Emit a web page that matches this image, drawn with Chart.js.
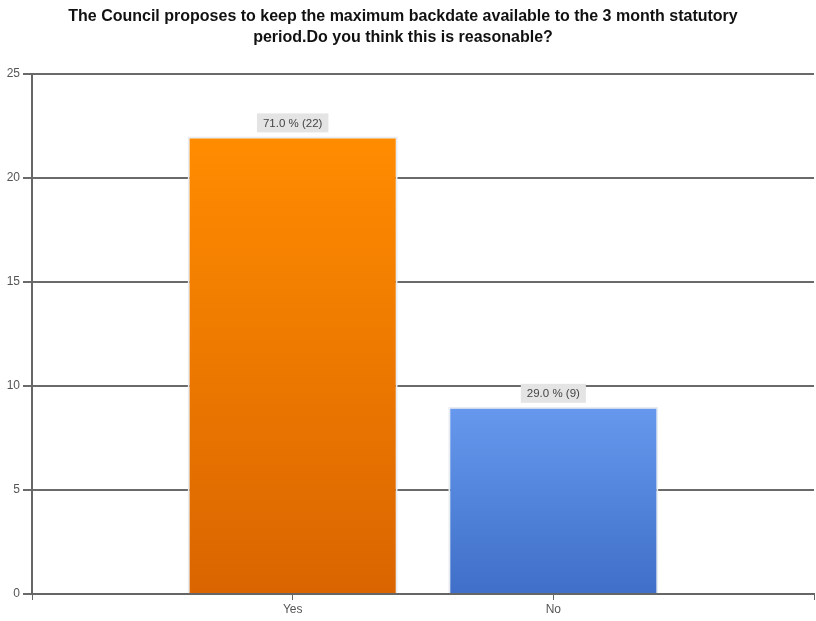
<!DOCTYPE html>
<html>
<head>
<meta charset="utf-8">
<script src="https://cdn.jsdelivr.net/npm/chart.js@4.4.1/dist/chart.umd.min.js"></script>
<style>
  html, body { margin: 0; padding: 0; background: #ffffff; }
  #wrap { width: 816px; height: 621px; position: relative; }
</style>
</head>
<body>
<div id="wrap"><canvas id="c" width="816" height="621"></canvas></div>
<script>
// Survey answers
const categories = ['Yes', 'No'];
const responses = [22, 9];
const yTicks = [0, 5, 10, 15, 20, 25];
const titleLines = [
  'The Council proposes to keep the maximum backdate available to the 3 month statutory',
  'period.Do you think this is reasonable?'
];

// Gradient colours per answer (top, bottom)
const barColours = {
  Yes: ['#ff8c00', '#da6500'],
  No: ['#6699ee', '#3f6fc8']
};

const total = responses.reduce((a, b) => a + b, 0);
// Empty slots either side keep the two bars centred in thirds of the axis
const axisLabels = [''].concat(categories, ['']);
const axisValues = [null].concat(responses, [null]);

const titlePlugin = {
  id: 'twoLineTitle',
  afterDraw(chart) {
    const ctx = chart.ctx;
    ctx.save();
    ctx.font = 'bold 16px "Liberation Sans", Arial, sans-serif';
    ctx.fillStyle = '#111';
    ctx.textAlign = 'center';
    ctx.textBaseline = 'middle';
    titleLines.forEach((t, i) => ctx.fillText(t, 403, 17 + i * 21));
    ctx.restore();
  }
};

const valueLabelPlugin = {
  id: 'valueLabels',
  afterDatasetsDraw(chart) {
    const ctx = chart.ctx;
    const meta = chart.getDatasetMeta(0);
    ctx.save();
    ctx.font = '11.5px "Liberation Sans", Arial, sans-serif';
    ctx.textAlign = 'center';
    ctx.textBaseline = 'middle';
    meta.data.forEach((bar, i) => {
      const v = axisValues[i];
      if (v === null) return;
      const txt = (v / total * 100).toFixed(1) + ' % (' + v + ')';
      const w = ctx.measureText(txt).width + 12;
      const h = 19;
      const cy = bar.y - 4 - h / 2;
      ctx.fillStyle = '#e4e4e4';
      ctx.fillRect(bar.x - w / 2, cy - h / 2, w, h);
      ctx.fillStyle = '#444';
      ctx.fillText(txt, bar.x, cy + 1);
    });
    ctx.restore();
  }
};

function barGradient(context) {
  const chart = context.chart;
  const area = chart.chartArea;
  const label = axisLabels[context.dataIndex];
  const cols = barColours[label] || ['#999', '#777'];
  if (!area) return cols[0];
  const top = chart.scales.y.getPixelForValue(axisValues[context.dataIndex] || 0);
  const g = chart.ctx.createLinearGradient(0, top, 0, area.bottom);
  g.addColorStop(0, cols[0]);
  g.addColorStop(1, cols[1]);
  return g;
}

new Chart(document.getElementById('c'), {
  type: 'bar',
  data: {
    labels: axisLabels,
    datasets: [{
      data: axisValues,
      backgroundColor: barGradient,
      borderColor: '#e8ecf0',
      borderWidth: { left: 2, right: 2, top: 2, bottom: 0 },
      borderSkipped: false,
      barPercentage: 0.806,
      categoryPercentage: 1.0
    }]
  },
  plugins: [titlePlugin, valueLabelPlugin],
  options: {
    responsive: false,
    animation: false,
    layout: { padding: { top: 74, right: 2, left: 0, bottom: 0 } },
    plugins: {
      legend: { display: false },
      title: { display: false },
      tooltip: { enabled: false }
    },
    scales: {
      x: {
        type: 'category',
        offset: false,
        grid: {
          display: true,
          offset: false,
          drawOnChartArea: false,
          drawTicks: true,
          tickLength: 6,
          color: '#666',
          lineWidth: 1
        },
        border: { display: true, color: '#666', width: 2 },
        ticks: {
          color: '#555',
          font: { size: 12, family: '"Liberation Sans", Arial, sans-serif' },
          padding: 2,
          maxRotation: 0,
          autoSkip: false
        },
        afterFit(scale) { scale.height = 27; }
      },
      y: {
        min: yTicks[0],
        max: yTicks[yTicks.length - 1],
        afterBuildTicks(scale) { scale.ticks = yTicks.map(v => ({ value: v })); },
        grid: {
          color: '#6a6a6a',
          lineWidth: 2,
          tickLength: 9,
          drawTicks: true
        },
        border: { display: true, color: '#666', width: 2 },
        ticks: {
          color: '#555',
          font: { size: 12, family: '"Liberation Sans", Arial, sans-serif' },
          padding: 3
        },
        afterFit(scale) { scale.width = 32; }
      }
    }
  }
});
</script>
</body>
</html>
